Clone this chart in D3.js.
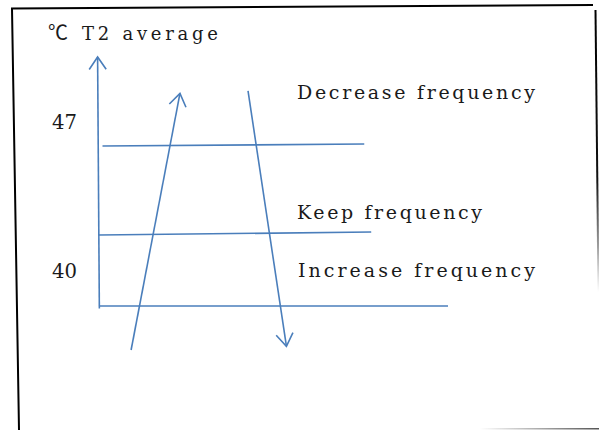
<!DOCTYPE html>
<html>
<head>
<meta charset="utf-8">
<script src="https://cdn.jsdelivr.net/npm/d3@7"></script>
<style>
    body{ margin:0; background:#fff; }
    text{ font-family:"DejaVu Serif","Noto Sans CJK SC",serif; fill:#1a1a1a; }
</style>
</head>
<body>
<div id="chart-container"></div>
<script>
// temperature thresholds (T2 average, ℃) and their labels
const tickValues = [47, 40]
const tickLabels = ['47', '40']
const levelLeft = [46.92, 39.84, 34.2]
const levelRight = [47.08, 40.08, 34.2]
const levelStart = [1, 0, 0]
const levelEnd = [76, 78, 100]
const zoneLabels = ['Decrease frequency', 'Keep frequency', 'Increase frequency']
// trend arrows: [start, tip]
const arrowX = [[9.2, 23.2], [42.7, 53.7]]
const arrowT = [[30.7, 51.1], [51.3, 31.0]]
const axisUnit = '℃'
const axisTitle = 'T2 average'

const width = 599, height = 430
const blue = '#4a7ebb'

const svg = d3.select('#chart-container')
    .append('svg')
    .attr('width', width)
    .attr('height', height)

const xScale = d3.scaleLinear().domain([0, 100]).range([99, 448])
const yScale = d3.scaleLinear().domain([34, 54]).range([308.5, 57])

// frame around the picture (a bit crooked, right and bottom edges fade out)
const defs = svg.append('defs')
const fadeDown = defs.append('linearGradient')
    .attr('id', 'fade-down')
    .attr('gradientUnits', 'userSpaceOnUse')
    .attr('x1', 0).attr('y1', 10).attr('x2', 0).attr('y2', 292)
fadeDown.append('stop').attr('offset', 0).attr('stop-color', '#000')
fadeDown.append('stop').attr('offset', 0.6).attr('stop-color', '#111')
fadeDown.append('stop').attr('offset', 1).attr('stop-color', '#fff')
const fadeLeft = defs.append('linearGradient')
    .attr('id', 'fade-left')
    .attr('gradientUnits', 'userSpaceOnUse')
    .attr('x1', 480).attr('y1', 0).attr('x2', 599).attr('y2', 0)
fadeLeft.append('stop').attr('offset', 0).attr('stop-color', '#fff')
fadeLeft.append('stop').attr('offset', 1).attr('stop-color', '#555')

const frame = svg.append('g').attr('class', 'frame').attr('fill', 'none').attr('stroke-width', 2)
frame.append('path').attr('d', 'M19,430 L12,8.5 L593,5').attr('stroke', '#000')
frame.append('path').attr('d', 'M595.5,10 L598.5,292').attr('stroke', 'url(#fade-down)')
frame.append('path').attr('d', 'M480,428.8 L599,428.8').attr('stroke', 'url(#fade-left)').attr('stroke-width', 1.5)

const g = svg.append('g').attr('stroke', blue).attr('stroke-width', 1.6).attr('fill', 'none')

const arrowHead = (x0, y0, x1, y1) => {
    const a = Math.atan2(y0 - y1, x0 - x1)
    const len = 15, spread = 0.6
    return `M${x1 + len*Math.cos(a - spread)},${y1 + len*Math.sin(a - spread)}`
        + `L${x1},${y1}`
        + `L${x1 + len*Math.cos(a + spread)},${y1 + len*Math.sin(a + spread)}`
}

// y axis with arrow
const axisTop = [xScale(-0.4), yScale(54)]
const axisBottom = [xScale(0.1), yScale(34)]
g.append('line')
    .attr('x1', axisBottom[0]).attr('y1', axisBottom[1])
    .attr('x2', axisTop[0]).attr('y2', axisTop[1])
g.append('path').attr('d', arrowHead(axisBottom[0], axisBottom[1], axisTop[0], axisTop[1]))

// threshold lines
g.selectAll('.level')
    .data(levelLeft)
    .join('line')
    .attr('class', 'level')
    .attr('x1', (d, i) => xScale(levelStart[i]))
    .attr('y1', d => yScale(d))
    .attr('x2', (d, i) => xScale(levelEnd[i]))
    .attr('y2', (d, i) => yScale(levelRight[i]))

// trend arrows
arrowX.forEach((xs, i) => {
    const [x0, x1] = xs.map(xScale)
    const [y0, y1] = arrowT[i].map(yScale)
    g.append('line').attr('x1', x0).attr('y1', y0).attr('x2', x1).attr('y2', y1)
    g.append('path').attr('d', arrowHead(x0, y0, x1, y1))
})

// texts
const title = svg.append('text')
    .attr('x', 48).attr('y', 40)
    .attr('font-size', 18)
title.append('tspan')
    .style('font-family', '"Noto Sans CJK SC"')
    .attr('font-size', 20)
    .text(axisUnit)
title.append('tspan')
    .attr('x', 82)
    .attr('textLength', 136).attr('lengthAdjust', 'spacing')
    .text(axisTitle)

const tickOffset = [-16, 45]
svg.selectAll('.tick-label')
    .data(tickValues)
    .join('text')
    .attr('class', 'tick-label')
    .attr('x', 52)
    .attr('y', (d, i) => yScale(d) + tickOffset[i])
    .attr('font-size', 21)
    .attr('textLength', 25).attr('lengthAdjust', 'spacingAndGlyphs')
    .text((d, i) => tickLabels[i])

const zoneY = [yScale(tickValues[0]) - 46, yScale(tickValues[1]) - 14, yScale(tickValues[1]) + 44]
const zoneWidth = [238, 185, 237]
svg.selectAll('.zone-label')
    .data(zoneLabels)
    .join('text')
    .attr('class', 'zone-label')
    .attr('x', (d, i) => i == 2 ? 298 : 297)
    .attr('y', (d, i) => zoneY[i])
    .attr('font-size', 19)
    .attr('textLength', (d, i) => zoneWidth[i]).attr('lengthAdjust', 'spacing')
    .text(d => d)
</script>
</body>
</html>
